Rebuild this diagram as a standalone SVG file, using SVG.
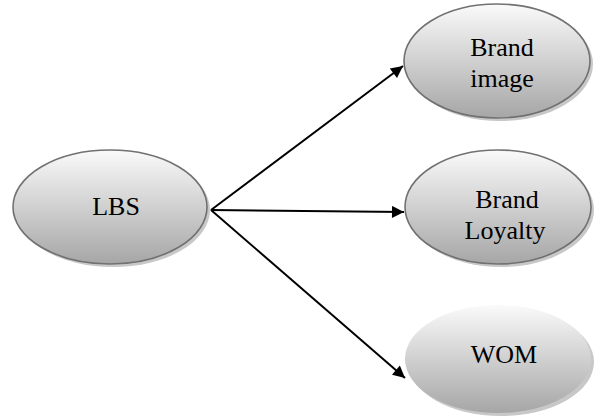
<svg xmlns="http://www.w3.org/2000/svg" width="594" height="418" viewBox="0 0 594 418">
<style>
.node{fill:url(#g);stroke:#717171;stroke-width:1.6}
.plain{fill:url(#g)}
.shadow{fill:#c8c8c8}
.label{font-family:"Liberation Serif","Times New Roman",serif;font-size:26px;fill:#000;text-anchor:middle}
.edge{stroke:#000;stroke-width:2;fill:none;marker-end:url(#ah)}
</style>
<defs>
<linearGradient id="g" x1="0" y1="0" x2="0" y2="1">
<stop offset="0" stop-color="#fafafa"/>
<stop offset="1" stop-color="#a6a6a6"/>
</linearGradient>
<marker id="ah" viewBox="0 0 10 10" refX="10" refY="5" markerWidth="8" markerHeight="6" markerUnits="strokeWidth" orient="auto">
<path d="M0,0 L10,5 L0,10 z" fill="#000"/>
</marker>
</defs>
<rect width="594" height="418" fill="#fff"/>
<g id="connectors">
<line class="edge" x1="211" y1="210" x2="403" y2="66"/>
<line class="edge" x1="211" y1="210" x2="404" y2="212"/>
<line class="edge" x1="211" y1="210" x2="405" y2="378"/>
</g>
<g id="lbs">
<ellipse class="shadow" cx="113" cy="210" rx="97" ry="57"/>
<ellipse class="node" cx="110" cy="207" rx="97" ry="57"/>
<text class="label" x="116" y="215">LBS</text>
</g>
<g id="brand-image">
<ellipse class="shadow" cx="500" cy="64" rx="93" ry="57"/>
<ellipse class="node" cx="497" cy="61" rx="93" ry="57"/>
<text class="label" x="502" y="56">Brand</text>
<text class="label" x="502" y="87">image</text>
</g>
<g id="brand-loyalty">
<ellipse class="shadow" cx="501" cy="210" rx="93" ry="57"/>
<ellipse class="node" cx="498" cy="207" rx="93" ry="57"/>
<text class="label" x="507" y="208">Brand</text>
<text class="label" x="505" y="239">Loyalty</text>
</g>
<g id="wom">
<ellipse class="shadow" cx="501" cy="362" rx="93" ry="54"/>
<ellipse class="plain" cx="498" cy="359" rx="93" ry="54"/>
<text class="label" x="504" y="363">WOM</text>
</g>
</svg>
